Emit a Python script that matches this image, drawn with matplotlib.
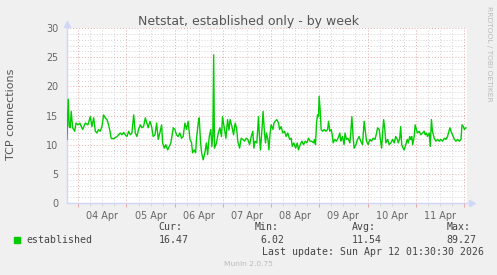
"""
Munin - Netstat, established only - by week
"""
import matplotlib
matplotlib.use("Agg")
import matplotlib.pyplot as plt
from matplotlib.ticker import MultipleLocator, FuncFormatter

# ──────────────────────────────────────────────
# DATI (ore dall'inizio di 04 Apr, connessioni stabilite)
# ──────────────────────────────────────────────
hours = [
    -5.6, -5.0, -4.5, -4.0, -3.5, -2.8, -1.8, -1.1, -0.1, 0.8, 1.5, 2.2, 3.5, 4.8,
    6.0, 6.8, 7.7, 8.5, 9.3, 10.1, 10.9, 11.8, 12.6, 13.4, 14.3, 15.1, 15.8, 16.4,
    17.6, 18.4, 19.3, 20.1, 20.9, 21.7, 22.6, 23.4, 24.2, 25.1, 25.9, 26.7, 27.6,
    28.4, 29.2, 30.0, 30.9, 31.7, 32.5, 33.4, 34.8, 35.7, 36.5, 37.3, 38.2, 39.0,
    39.8, 40.6, 41.5, 42.0, 42.8, 43.6, 44.5, 45.3, 46.1, 47.3, 48.1, 48.9, 49.7,
    50.6, 51.4, 52.2, 53.1, 53.9, 54.7, 55.6, 56.4, 56.9, 57.7, 58.4, 58.9, 59.7,
    60.2, 60.9, 61.4, 62.2, 63.0, 63.8, 64.4, 65.2, 66.0, 66.5, 67.0, 67.4, 67.8,
    68.8, 69.7, 70.5, 71.3, 71.8, 72.6, 73.5, 74.3, 75.0, 75.6, 76.5, 77.3, 78.1,
    78.8, 79.4, 80.3, 81.1, 81.9, 82.8, 83.6, 84.4, 85.3, 86.1, 86.9, 87.4, 88.0,
    88.9, 89.7, 90.2, 90.7, 91.2, 91.5, 92.0, 92.7, 93.2, 93.7, 94.4, 94.9, 95.5,
    96.0, 96.9, 97.4, 98.0, 98.8, 99.7, 100.2, 101.0, 101.8, 102.7, 103.5, 104.3,
    105.2, 106.0, 106.5, 107.3, 108.2, 109.0, 109.6, 110.5, 111.3, 112.1, 113.0,
    113.8, 114.6, 115.4, 116.2, 117.1, 117.6, 118.1, 118.6, 119.1, 119.6, 119.9,
    120.4, 120.9, 121.6, 122.4, 123.2, 124.1, 124.6, 125.2, 125.9, 126.4, 126.9,
    127.7, 128.5, 129.3, 130.2, 130.7, 131.5, 132.3, 132.8, 133.5, 134.3, 135.2,
    135.7, 136.2, 136.8, 137.3, 138.2, 139.0, 139.8, 140.6, 141.5, 142.3, 142.8,
    143.5, 144.3, 145.2, 146.0, 146.8, 147.7, 148.5, 149.0, 149.8, 150.3, 151.0,
    151.5, 152.0, 152.6, 153.1, 154.0, 154.8, 155.6, 156.5, 157.3, 158.0, 158.8,
    159.3, 160.0, 160.5, 161.0, 161.7, 162.2, 163.0, 163.8, 164.3, 165.0, 165.5,
    166.0, 166.5, 167.2, 167.7, 168.3, 168.8, 169.7, 170.5, 171.3, 172.2, 172.7,
    173.3, 173.8, 174.7, 175.2, 175.8, 176.3, 177.2, 178.0, 178.8, 179.7, 180.5,
    181.3, 182.2, 183.0, 183.8, 184.3, 185.0, 185.5, 186.3, 187.2, 188.0, 188.8,
    189.7, 190.5, 191.0, 191.7, 192.2, 193.0,
]
established = [
    10.9, 17.8, 13.1, 12.9, 15.7, 12.9, 12.3, 13.7, 13.4, 13.7, 13.1, 12.6, 13.7, 13.4,
    14.8, 13.1, 14.6, 12.3, 12.0, 12.6, 12.3, 13.1, 15.1, 14.6, 14.3, 13.4, 12.3, 11.1,
    11.0, 11.2, 11.4, 11.7, 12.0, 11.7, 12.1, 11.7, 11.4, 12.3, 11.7, 12.0, 15.1,
    12.0, 11.4, 12.6, 13.4, 12.9, 13.1, 14.6, 12.9, 14.0, 13.1, 11.4, 11.7, 13.7,
    10.9, 12.0, 13.4, 10.3, 9.4, 10.0, 9.1, 9.7, 10.3, 12.9, 12.6, 11.7, 11.4,
    12.0, 11.1, 11.4, 13.7, 12.6, 14.0, 10.9, 10.3, 8.6, 9.1, 8.6, 11.1, 13.7,
    14.6, 10.3, 8.6, 7.4, 8.6, 10.3, 8.3, 11.4, 12.6, 9.7, 11.7, 25.4, 9.4,
    10.3, 12.0, 12.9, 11.4, 14.8, 13.1, 11.1, 14.3, 12.5, 14.3, 13.1, 11.7, 13.7,
    12.9, 10.6, 9.4, 11.1, 10.9, 10.6, 11.1, 10.9, 10.0, 11.4, 12.3, 9.4, 10.6,
    10.3, 14.8, 11.4, 9.1, 11.4, 12.9, 15.7, 12.0, 10.3, 12.0, 10.9, 9.1, 12.0,
    13.4, 12.6, 13.7, 14.0, 14.3, 13.7, 12.6, 13.1, 12.0, 12.3, 11.4, 12.0,
    10.9, 11.1, 9.7, 10.3, 9.4, 10.3, 9.1, 10.0, 10.6, 10.0, 10.6,
    10.3, 11.1, 10.6, 10.6, 10.3, 10.9, 10.0, 13.7, 15.1, 14.8, 18.3,
    16.0, 12.6, 12.3, 12.6, 12.3, 12.6, 14.0, 12.3, 12.6, 11.7, 10.3,
    10.9, 10.6, 11.1, 12.0, 10.6, 11.4, 10.0, 12.0, 10.9, 11.1, 10.3,
    12.3, 14.8, 11.4, 9.4, 10.0, 10.9, 11.4, 10.6, 10.0, 14.0, 12.6,
    10.6, 10.0, 10.9, 10.6, 11.1, 10.9, 12.0, 12.9, 12.6, 11.1, 9.4,
    12.0, 14.3, 12.6, 10.3, 10.9, 10.0, 10.3, 10.9, 10.3, 11.4, 10.9,
    10.3, 11.1, 13.1, 10.0, 9.4, 9.1, 10.0, 10.9, 10.3, 11.4, 10.9,
    11.4, 10.0, 11.4, 13.4, 12.6, 12.0, 12.3, 11.7, 12.0, 12.3, 11.7,
    12.0, 11.4, 12.0, 9.7, 14.3, 12.3, 11.1, 10.6, 10.9, 10.6, 10.9,
    10.6, 11.1, 10.9, 11.4, 12.0, 12.9, 12.3, 11.7, 10.9, 10.6, 10.9,
    10.6, 10.9, 13.4, 13.1, 12.6, 12.9,
]

TITLE = "Netstat, established only - by week"
YLABEL = "TCP connections"
X_START, X_END = -5.6, 193.5   # 03 Apr 18:24 -> 12 Apr 01:30
FIRST_DAY = 4                   # 04 Apr = ora 0

legend_label = "established"
stat_names = ["Cur:", "Min:", "Avg:", "Max:"]
stat_values = ["16.47", "6.02", "11.54", "89.27"]
last_update = "Last update: Sun Apr 12 01:30:30 2026"

# ──────────────────────────────────────────────
# STILE
# ──────────────────────────────────────────────
W, H = 497, 275
BG = "#F0F0F0"
FONT_C = "#666666"
AXIS_C = "#CFD6F8"
LINE_C = "#00CC00"
MINOR_C = "#D2D2D2"
MAJOR_C = "#E6AAAA"


def fx(x):
    return x / W


def fy(y):
    return 1 - y / H


fig = plt.figure(figsize=(W / 100, H / 100), dpi=100, facecolor=BG)
ax = fig.add_axes([fx(67), fy(203), 400 / W, 175 / H])
ax.set_facecolor("white")

# griglia
ax.set_xlim(X_START, X_END)
ax.set_ylim(0, 30)
ax.xaxis.set_major_locator(MultipleLocator(24))
ax.xaxis.set_minor_locator(MultipleLocator(6))
ax.yaxis.set_major_locator(MultipleLocator(5))
ax.yaxis.set_minor_locator(MultipleLocator(1))

dots = (0, (1, 2))
ax.grid(which="minor", color=MINOR_C, linestyle=dots, linewidth=0.7)
ax.grid(which="major", color=MAJOR_C, linestyle=dots, linewidth=0.7)
ax.set_axisbelow(True)

# etichette giorno a mezzogiorno (minor tick a 12h)
ax.xaxis.set_major_formatter(FuncFormatter(lambda v, p: ""))
ax.xaxis.set_minor_formatter(FuncFormatter(
    lambda v, p: f"{FIRST_DAY + int(v // 24):02d} Apr" if round(v) % 24 == 12 else ""))

ax.tick_params(axis="x", which="major", length=3, color=MAJOR_C, direction="out")
ax.tick_params(axis="x", which="minor", length=2, color=MINOR_C, direction="out",
               labelsize=6.9, labelcolor=FONT_C, pad=4)
ax.tick_params(axis="y", which="both", length=0, labelsize=6.9,
               labelcolor=FONT_C, pad=6)

for s in ["top", "right"]:
    ax.spines[s].set_visible(False)
for s in ["left", "bottom"]:
    ax.spines[s].set_color(AXIS_C)
    ax.spines[s].set_linewidth(1.0)

# frecce degli assi
ax.plot([0], [1.025], marker="^", ms=4, color=AXIS_C, transform=ax.transAxes, clip_on=False)
ax.plot([1.012], [0], marker=">", ms=4, color=AXIS_C, transform=ax.transAxes, clip_on=False)

# serie
ax.plot(hours, established, color=LINE_C, linewidth=1.0, zorder=3)

# testi
fig.text(fx(249), fy(25), TITLE, ha="center", va="baseline", fontsize=9, color="#555555")
fig.text(fx(11), fy(114), YLABEL, ha="center", va="center", rotation=90,
         fontsize=8, color="#555555")
fig.text(fx(488.5), fy(53.5), "RRDTOOL / TOBI OETIKER", ha="center", va="center",
         rotation=270, fontsize=5.4, color="#BBBBBB")

# legenda stile rrdtool
mono = dict(family="DejaVu Sans Mono", fontsize=7.15, color="#444444", va="center")
fig.patches.append(plt.Rectangle((fx(14), fy(243)), 6 / W, 6 / H, color=LINE_C,
                                 transform=fig.transFigure, figure=fig))
fig.text(fx(26), fy(240), legend_label, ha="left", **mono)
name_x = [158.7, 254.3, 351.7, 446.7]
val_x = [158.7, 260.7, 351.7, 446.7]
for nx, vx, name, val in zip(name_x, val_x, stat_names, stat_values):
    fig.text(fx(nx), fy(227.5), name, ha="left", **mono)
    fig.text(fx(vx), fy(240), val, ha="left", **mono)
fig.text(fx(261.7), fy(252), last_update, ha="left", **mono)
fig.text(fx(248), fy(264), "Munin 2.0.75", ha="center", va="center",
         fontsize=5.4, color="#BBBBBB")

plt.savefig("out.png", dpi=100, facecolor=BG)
print("[OK] Salvato: out.png")
